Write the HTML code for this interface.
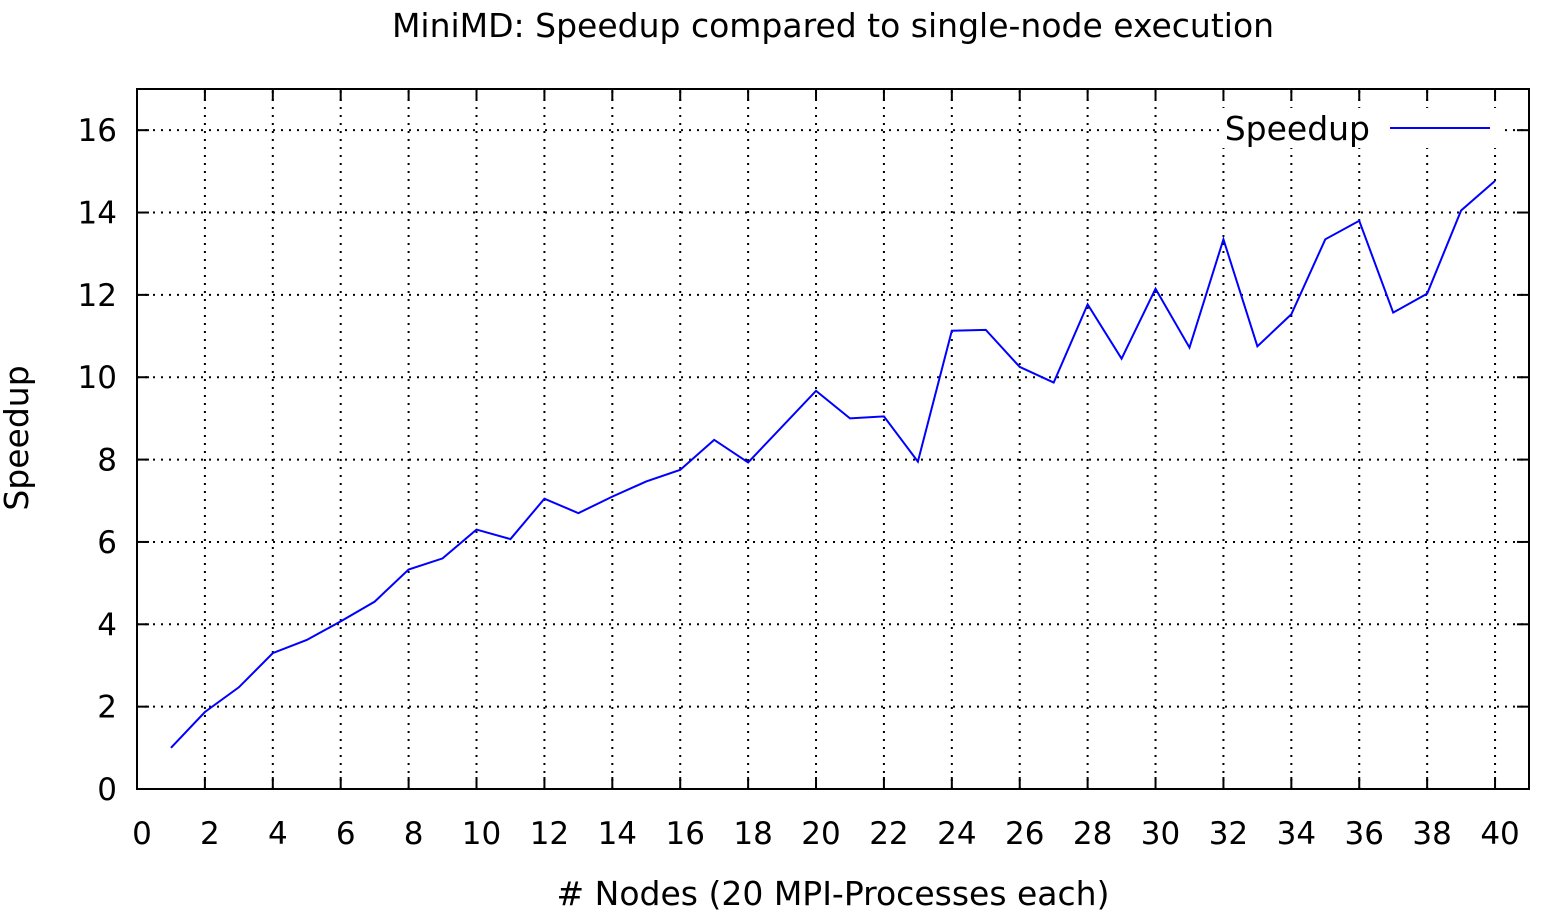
<!DOCTYPE html>
<html><head><meta charset="utf-8"><style>
body{margin:0;background:#fff}
text{font-family:"DejaVu Sans","Liberation Sans",sans-serif;fill:#000}
</style></head><body>
<svg id="chart" width="1543" height="914" xmlns="http://www.w3.org/2000/svg">
<rect width="1543" height="914" fill="#fff"/>
<text x="833" y="37" font-size="33" text-anchor="middle">MiniMD: Speedup compared to single-node execution</text>
<text transform="translate(28,438) rotate(-90)" font-size="33" text-anchor="middle">Speedup</text>
<text x="833" y="905" font-size="33" text-anchor="middle"># Nodes (20 MPI-Processes each)</text>
<g id="grid"></g><g id="ticks"></g>
<g id="legend">
<rect x="1222" y="108" width="278" height="40" fill="#fff"/>
<text x="1370" y="140" font-size="33" text-anchor="end">Speedup</text>
<line x1="1390" y1="128" x2="1490" y2="128" stroke="#00f" stroke-width="2"/>
</g>
<polyline id="series" fill="none" stroke="#00f" stroke-width="2"/>
<rect x="137" y="89" width="1392" height="700" fill="none" stroke="#000" stroke-width="2"/>
</svg>
<script>
const nodes=[1,2,3,4,5,6,7,8,9,10,11,12,13,14,15,16,17,18,19,20,21,22,23,24,25,26,27,28,29,30,31,32,33,34,35,36,37,38,39,40];
const speedup=[1.0,1.87,2.47,3.3,3.62,4.07,4.55,5.33,5.6,6.3,6.07,7.05,6.7,7.1,7.47,7.75,8.48,7.93,8.8,9.67,9.0,9.05,7.95,11.13,11.15,10.25,9.87,11.77,10.45,12.15,10.72,13.35,10.75,11.53,13.35,13.8,11.57,12.03,14.05,14.77];
const xTicks=[0,2,4,6,8,10,12,14,16,18,20,22,24,26,28,30,32,34,36,38,40];
const yTicks=[0,2,4,6,8,10,12,14,16];
const L=137,R=1529,T=89,B=789,XMAX=41,YMAX=17;
const sx=v=>L+(R-L)*v/XMAX, sy=v=>B-(B-T)*v/YMAX;
const NS="http://www.w3.org/2000/svg";
const grid=document.getElementById('grid'), ticks=document.getElementById('ticks');
function ln(p,x1,y1,x2,y2,dash){const l=document.createElementNS(NS,'line');l.setAttribute('x1',x1);l.setAttribute('y1',y1);l.setAttribute('x2',x2);l.setAttribute('y2',y2);l.setAttribute('stroke','#000');l.setAttribute('stroke-width',2);if(dash)l.setAttribute('stroke-dasharray','2,6');p.appendChild(l);return l;}
function tx(x,y,s,a){const t=document.createElementNS(NS,'text');t.setAttribute('x',x);t.setAttribute('y',y);t.setAttribute('font-size','31');t.setAttribute('text-anchor',a);t.textContent=s;ticks.appendChild(t);return t;}
xTicks.forEach(v=>{const x=sx(v);
 if(v>0){const g=ln(grid,x,B,x,T,true);
 
 }
 ln(ticks,x,B,x,B-12);ln(ticks,x,T,x,T+12);
 const t=tx(x+5,844,String(v),'middle');
 
 });
yTicks.forEach(v=>{const y=sy(v);
 if(v>0){const g=ln(grid,L,y,R,y,true);
 
 }
 ln(ticks,L,y,L+12,y);ln(ticks,R,y,R-12,y);
 const t=tx(117,y+11,String(v),'end');
 
 });
document.getElementById('series').setAttribute('points',nodes.map((n,i)=>sx(n)+','+sy(speedup[i])).join(' '));
</script>
</body></html>
